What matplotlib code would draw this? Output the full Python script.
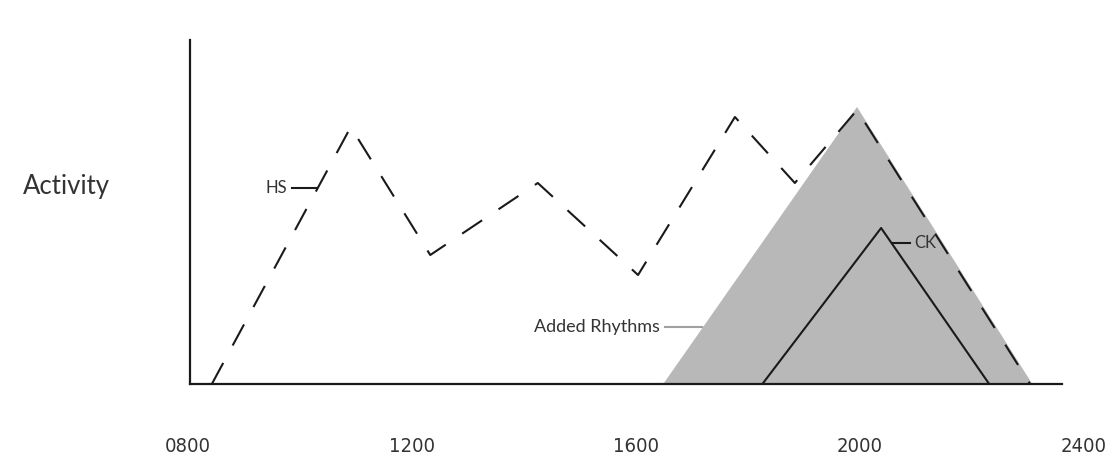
import matplotlib.pyplot as plt
from matplotlib.transforms import offset_copy

# HS (dashed), added rhythms (grey area), CK (solid)
hs_time = [839, 1087, 1229, 1421, 1600, 1773, 1880, 1991, 2300]
hs_level = [0, 257, 129, 201, 109, 267, 201, 274, 0]

ar_time = [1645, 1991, 2304]
ar_level = [0, 277, 0]

ck_time = [1822, 2034, 2227]
ck_level = [0, 156, 0]

tick_times = [800, 1200, 1600, 2000, 2400]
tick_labels = ['0800', '1200', '1600', '2000', '2400']

txt = '#333333'
plt.rcParams['font.family'] = ['Lato', 'DejaVu Sans']

fig = plt.figure(figsize=(11.07, 4.66), dpi=100)
ax = fig.add_axes([190/1107, 82/466, 872/1107, 344/466])

ax.fill(ar_time, ar_level, color='#b8b8b8', lw=0, zorder=1)
ax.plot(ck_time, ck_level, color='#1a1a1a', lw=1.5, zorder=3)
ax.plot(hs_time, hs_level, color='#1a1a1a', lw=1.5, dashes=(11.5, 9.5), zorder=2)

ax.set_xlim(800, 2357)
ax.set_ylim(0, 344)
for s in ['top', 'right']:
    ax.spines[s].set_visible(False)
for s in ['left', 'bottom']:
    ax.spines[s].set_linewidth(1.6)
    ax.spines[s].set_color('#1a1a1a')
ax.set_xticks([])
ax.set_yticks([])

# time labels sit a bit left of their data position, like the original
lab_tr = offset_copy(ax.transData, fig=fig, x=-2.5, y=0, units='dots')
for t, lab in zip(tick_times, tick_labels):
    ax.text(t, -63, lab, ha='center', va='center', fontsize=14.5, transform=lab_tr,
            family=['DejaVu Sans'], fontstretch='condensed', color=txt, clip_on=False)

fig.text(66/1107, 1 - 186/466, 'Activity', ha='center', va='center', fontsize=18.5, color=txt)

# callouts
ax.plot([982, 1027], [196, 196], color='#1a1a1a', lw=1.5, zorder=4)
ax.text(973, 196, 'HS', ha='right', va='center', fontsize=12, color=txt)

ax.plot([2054, 2086], [141, 141], color='#1a1a1a', lw=1.5, zorder=4)
ax.text(2093, 141, 'CK', ha='left', va='center', fontsize=12, color=txt)

ax.plot([1648, 1714], [57, 57], color='#a0a0a0', lw=1.5, zorder=4)
ax.text(1639, 57, 'Added Rhythms', ha='right', va='center', fontsize=13, color=txt)

fig.savefig('out.png', dpi=100)
